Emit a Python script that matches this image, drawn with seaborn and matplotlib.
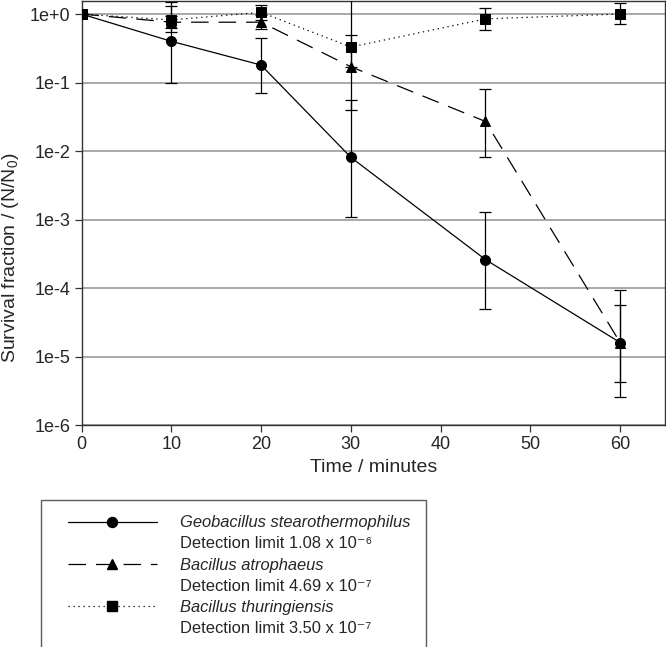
import matplotlib
matplotlib.use("Agg")
import matplotlib.pyplot as plt
from matplotlib.lines import Line2D
from matplotlib.legend_handler import HandlerLine2D
import seaborn as sns
import numpy as np
import pandas as pd

# ---- data ----
time = [0, 10, 20, 30, 45, 60]

geo = [1.0, 0.40, 0.18, 0.0081, 2.6e-4, 1.6e-5]
geo_lo = [1.0, 0.10, 0.071, 0.0011, 4.9e-5, 2.6e-6]
geo_hi = [1.0, 1.5, 0.44, 0.056, 1.3e-3, 9.3e-5]

atro = [1.0, 0.76, 0.76, 0.17, 0.027, 1.6e-5]
atro_lo = [1.0, 0.62, 0.60, 0.040, 0.0083, 4.3e-6]
atro_hi = [1.0, 0.93, 0.96, 2.0, 0.080, 5.7e-5]

thur = [1.0, 0.82, 1.06, 0.33, 0.85, 1.0]
thur_lo = [1.0, 0.55, 0.83, 0.17, 0.59, 0.71]
thur_hi = [1.0, 1.31, 1.35, 0.49, 1.23, 1.43]

species = ["Geobacillus stearothermophilus", "Bacillus atrophaeus", "Bacillus thuringiensis"]
detection = ["Detection limit 1.08 x 10\u207b\u2076",
             "Detection limit 4.69 x 10\u207b\u2077",
             "Detection limit 3.50 x 10\u207b\u2077"]
ytick_vals = [1e0, 1e-1, 1e-2, 1e-3, 1e-4, 1e-5, 1e-6]
ytick_labels = ["1e+0", "1e-1", "1e-2", "1e-3", "1e-4", "1e-5", "1e-6"]
xtick_vals = [0, 10, 20, 30, 40, 50, 60]

# ---- style ----
sns.set_style("white")
plt.rcParams["font.family"] = ["Liberation Sans", "DejaVu Sans"]
plt.rcParams["mathtext.fontset"] = "custom"
plt.rcParams["mathtext.rm"] = "Liberation Sans"
plt.rcParams["mathtext.it"] = "Liberation Sans:italic"

fig = plt.figure(figsize=(6.66, 6.47), dpi=100)
ax = fig.add_axes([81.5 / 666, 1 - 425 / 647, (665 - 81.5) / 666, (424) / 647])

series = [
    (geo, geo_lo, geo_hi, "o", "-"),
    (atro, atro_lo, atro_hi, "^", (0, (14, 8))),
    (thur, thur_lo, thur_hi, "s", (0, (1.0, 3.0))),
]

frames = []
for name, (vals, lo, hi, mk, ls) in zip(species, series):
    frames.append(pd.DataFrame({"time": time, "frac": vals, "species": name}))
df = pd.concat(frames, ignore_index=True)

handles = []
for name, (vals, lo, hi, mk, ls) in zip(species, series):
    sub = df[df["species"] == name]
    v = np.array(vals)
    yerr = np.vstack([v - np.array(lo), np.array(hi) - v])
    ax.errorbar(time, vals, yerr=yerr, fmt="none", ecolor="black",
                elinewidth=0.9, capsize=4.4, capthick=0.9, zorder=3)
    sns.lineplot(data=sub, x="time", y="frac", ax=ax, color="black",
                 marker=mk, markersize=7.2, markeredgecolor="black",
                 linewidth=0.9, linestyle=ls, zorder=4, legend=False)
    handles.append(Line2D([0], [0], color="black", marker=mk, markersize=7.2,
                          linewidth=0.9, linestyle=ls))

ax.set_yscale("log")
ax.set_ylim(1e-6, 1.55)
ax.set_xlim(0, 65)
ax.set_yticks(ytick_vals)
ax.set_yticklabels(ytick_labels)
ax.minorticks_off()
ax.set_xticks(xtick_vals)
ax.yaxis.grid(True, color="#9a9a9a", linewidth=1.2)
ax.xaxis.grid(False)
ax.set_axisbelow(True)
for s in ax.spines.values():
    s.set_color("#333333")
    s.set_linewidth(1.0)
ax.tick_params(axis="both", which="major", direction="out", length=5,
               width=0.9, color="#333333", labelsize=13, bottom=True, left=True,
               top=False, right=False, pad=3)
ax.set_xlabel("Time / minutes", fontsize=14, labelpad=4)
ax.set_ylabel("Survival fraction / (N/N$_0$)", fontsize=14)
ax.yaxis.set_label_coords(-0.104, 0.394)

# ---- legend: species line + detection limit line ----
blank = Line2D([0], [0], color="none", marker=None, linestyle="none")
leg_handles, leg_labels = [], []
for h, sp, det in zip(handles, species, detection):
    leg_handles += [h, blank]
    leg_labels += [sp, det]
leg = fig.legend(leg_handles, leg_labels, loc="upper left",
                 bbox_to_anchor=(41 / 666, 1 - 500 / 647),
                 bbox_transform=fig.transFigure, borderaxespad=0,
                 fontsize=11.9, frameon=True, fancybox=False, edgecolor="#333333",
                 handlelength=6.1, handletextpad=1.39,
                 labelspacing=0.37, borderpad=0.93,
                 handler_map={Line2D: HandlerLine2D(xpad=0.68)})
leg.get_frame().set_linewidth(1.0)
for i, t in enumerate(leg.get_texts()):
    if i % 2 == 0:
        t.set_fontstyle("italic")

fig.savefig("out.png", dpi=100)
